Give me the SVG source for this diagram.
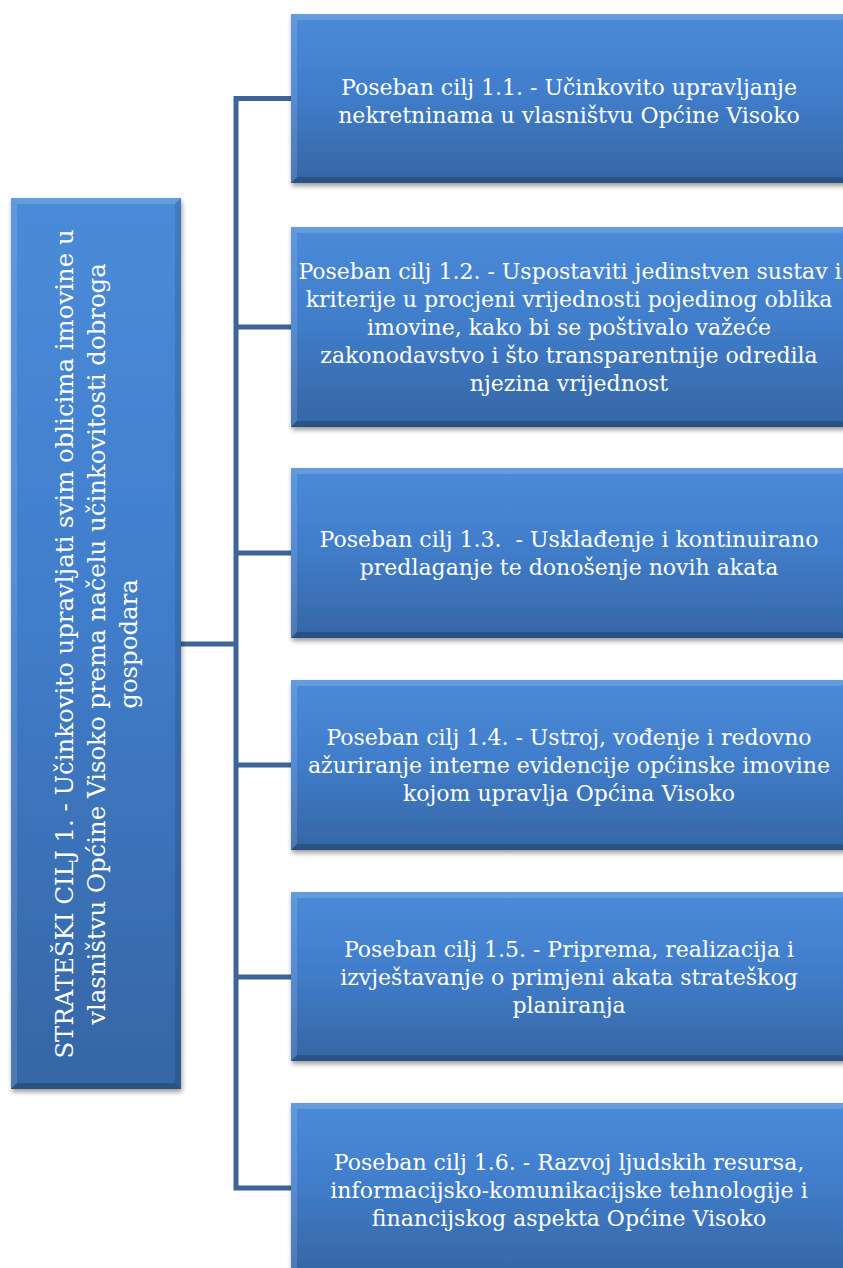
<svg xmlns="http://www.w3.org/2000/svg" width="843" height="1268" viewBox="0 0 843 1268">
<style>
.box{fill:url(#g);filter:url(#sh)}
.bt{fill:#ffffff;fill-opacity:0.15}
.bl{fill:#ffffff;fill-opacity:0.12}
.bb{fill:#000000;fill-opacity:0.2}
.br{fill:#000000;fill-opacity:0.12}
.t{fill:#ffffff;font-family:"DejaVu Serif","Liberation Serif",serif;font-size:22px;text-anchor:middle;white-space:pre}
.lt{fill:#ffffff;font-family:"DejaVu Serif","Liberation Serif",serif;font-size:24.4px;text-anchor:middle}
.c{fill:none;stroke:#3d6597;stroke-width:5;stroke-linejoin:miter}
</style>
<defs>
<linearGradient id="g" x1="0" y1="0" x2="0" y2="1">
<stop offset="0" stop-color="#4a8bd8"/>
<stop offset="0.45" stop-color="#417ecc"/>
<stop offset="1" stop-color="#3566a5"/>
</linearGradient>
<filter id="sh" x="-5%" y="-5%" width="115%" height="120%">
<feGaussianBlur in="SourceAlpha" stdDeviation="2.5"/>
<feOffset dx="1" dy="3"/>
<feComponentTransfer><feFuncA type="linear" slope="0.4"/></feComponentTransfer>
<feMerge><feMergeNode/><feMergeNode in="SourceGraphic"/></feMerge>
</filter>
</defs>
<rect width="843" height="1268" fill="#ffffff"/>
<g id="connectors">
<path class="c" d="M291,98.5 H236 V1188 H291"/>
<path class="c" d="M236,327 H291"/>
<path class="c" d="M236,553 H291"/>
<path class="c" d="M236,765 H291"/>
<path class="c" d="M236,977 H291"/>
<path class="c" d="M181,644 H236"/>
</g>
<g id="root">
<rect class="box" x="11" y="198" width="170" height="891"/>
<polygon class="bt" points="11,198 181,198 175,204 17,204"/>
<polygon class="bl" points="11,198 17,204 17,1083 11,1089"/>
<polygon class="bb" points="11,1089 17,1083 175,1083 181,1089"/>
<polygon class="br" points="181,198 175,204 175,1083 181,1089"/>
<g transform="translate(96,644) rotate(-90)">
<text class="lt" x="0" y="-23">STRATEŠKI CILJ 1. - Učinkovito upravljati svim oblicima imovine u</text>
<text class="lt" x="0" y="9">vlasništvu Općine Visoko prema načelu učinkovitosti dobroga</text>
<text class="lt" x="0" y="41">gospodara</text>
</g>
</g>
<g id="goal11">
<rect class="box" x="291" y="14" width="556" height="169"/>
<polygon class="bt" points="291,14 847,14 841,20 297,20"/>
<polygon class="bl" points="291,14 297,20 297,177 291,183"/>
<polygon class="bb" points="291,183 297,177 841,177 847,183"/>
<text class="t" x="569" y="95">Poseban cilj 1.1. - Učinkovito upravljanje</text>
<text class="t" x="569" y="123">nekretninama u vlasništvu Općine Visoko</text>
</g>
<g id="goal12">
<rect class="box" x="291" y="227" width="556" height="200"/>
<polygon class="bt" points="291,227 847,227 841,233 297,233"/>
<polygon class="bl" points="291,227 297,233 297,421 291,427"/>
<polygon class="bb" points="291,427 297,421 841,421 847,427"/>
<text class="t" x="570" y="279">Poseban cilj 1.2. - Uspostaviti jedinstven sustav i</text>
<text class="t" x="569" y="307">kriterije u procjeni vrijednosti pojedinog oblika</text>
<text class="t" x="569" y="335">imovine, kako bi se poštivalo važeće</text>
<text class="t" x="569" y="363">zakonodavstvo i što transparentnije odredila</text>
<text class="t" x="569" y="391">njezina vrijednost</text>
</g>
<g id="goal13">
<rect class="box" x="291" y="468" width="556" height="170"/>
<polygon class="bt" points="291,468 847,468 841,474 297,474"/>
<polygon class="bl" points="291,468 297,474 297,632 291,638"/>
<polygon class="bb" points="291,638 297,632 841,632 847,638"/>
<text class="t" x="569" y="547">Poseban cilj 1.3.  - Usklađenje i kontinuirano</text>
<text class="t" x="569" y="575">predlaganje te donošenje novih akata</text>
</g>
<g id="goal14">
<rect class="box" x="291" y="680" width="556" height="170"/>
<polygon class="bt" points="291,680 847,680 841,686 297,686"/>
<polygon class="bl" points="291,680 297,686 297,844 291,850"/>
<polygon class="bb" points="291,850 297,844 841,844 847,850"/>
<text class="t" x="569" y="745">Poseban cilj 1.4. - Ustroj, vođenje i redovno</text>
<text class="t" x="569" y="773">ažuriranje interne evidencije općinske imovine</text>
<text class="t" x="569" y="801">kojom upravlja Općina Visoko</text>
</g>
<g id="goal15">
<rect class="box" x="291" y="892" width="556" height="169"/>
<polygon class="bt" points="291,892 847,892 841,898 297,898"/>
<polygon class="bl" points="291,892 297,898 297,1055 291,1061"/>
<polygon class="bb" points="291,1061 297,1055 841,1055 847,1061"/>
<text class="t" x="569" y="957">Poseban cilj 1.5. - Priprema, realizacija i</text>
<text class="t" x="569" y="985">izvještavanje o primjeni akata strateškog</text>
<text class="t" x="569" y="1013">planiranja</text>
</g>
<g id="goal16">
<rect class="box" x="291" y="1103" width="556" height="170"/>
<polygon class="bt" points="291,1103 847,1103 841,1109 297,1109"/>
<polygon class="bl" points="291,1103 297,1109 297,1267 291,1273"/>
<text class="t" x="569" y="1170">Poseban cilj 1.6. - Razvoj ljudskih resursa,</text>
<text class="t" x="569" y="1198">informacijsko-komunikacijske tehnologije i</text>
<text class="t" x="569" y="1226">financijskog aspekta Općine Visoko</text>
</g>
</svg>
